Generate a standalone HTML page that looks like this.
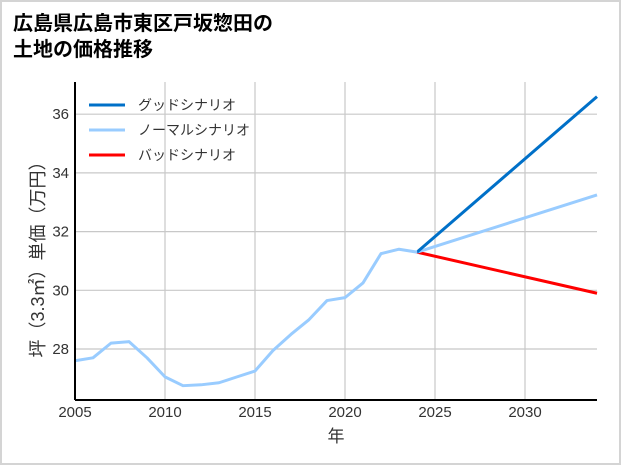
<!DOCTYPE html>
<html><head><meta charset="utf-8"><style>
body{margin:0;background:#fff}
#wrap{position:relative;width:621px;height:465px;box-sizing:border-box;border:2px solid #d4d4d4;background:#fff;font-family:"Liberation Sans","Noto Sans CJK JP",sans-serif}
#title{position:absolute;left:11px;top:9px;font-size:20px;font-weight:bold;line-height:26px;color:#000}
svg{position:absolute;left:-2px;top:-2px}
</style></head><body>
<div id="wrap">
<div id="title">広島県広島市東区戸坂惣田の<br>土地の価格推移</div>
<svg id="chart" width="621" height="465"></svg>
</div>
<script>
const years=[2005,2006,2007,2008,2009,2010,2011,2012,2013,2014,2015,2016,2017,2018,2019,2020,2021,2022,2023,2024];
const history=[27.6,27.7,28.2,28.25,27.7,27.05,26.75,26.78,26.85,27.05,27.25,27.95,28.5,29.0,29.65,29.75,30.25,31.25,31.4,31.3];
const forecastYears=[2024,2034];
const goodValues=[31.3,36.6];
const normalValues=[31.3,33.25];
const badValues=[31.3,29.9];
const xTicks=[2005,2010,2015,2020,2025,2030];
const yTicks=[28,30,32,34,36];
const NS='http://www.w3.org/2000/svg';
const svg=document.getElementById('chart');
const L=75,R=597,T=82,B=400;
const x=v=>L+(v-2005)/(2034-2005)*(R-L);
const y=v=>349-(v-28)*29.35;
function mk(t,a){const e=document.createElementNS(NS,t);for(const k in a)e.setAttribute(k,a[k]);svg.appendChild(e);return e;}
xTicks.forEach(t=>{
 const g=mk('line',{x1:x(t),x2:x(t),y1:T,y2:B,stroke:'#c8c8c8','stroke-width':1.2});
 
 const tx=mk('text',{x:x(t),y:B+17,'font-size':15,'text-anchor':'middle',fill:'#333'});tx.textContent=t;
 
});
yTicks.forEach(t=>{
 const g=mk('line',{x1:L,x2:R,y1:y(t),y2:y(t),stroke:'#c8c8c8','stroke-width':1.2});
 
 const tx=mk('text',{x:L-6,y:y(t)+5,'font-size':15,'text-anchor':'end',fill:'#333'});tx.textContent=t;
 
});
function line(xs,vs,c,n){const p=mk('polyline',{points:xs.map((v,i)=>x(v)+','+y(vs[i])).join(' '),fill:'none',stroke:c,'stroke-width':3,'stroke-linejoin':'round'});
 }
line(forecastYears,badValues,'#ff0000','bad-scenario-line');
line(forecastYears,normalValues,'#99ccff','normal-scenario-line');
line(forecastYears,goodValues,'#0070c8','good-scenario-line');
line(years,history,'#99ccff','historical-line');
const ax=mk('line',{x1:L,x2:L,y1:T,y2:B,stroke:'#000','stroke-width':2});

const bx=mk('line',{x1:L,x2:R,y1:B,y2:B,stroke:'#000','stroke-width':2});

const leg=[['グッドシナリオ','#0070c8'],['ノーマルシナリオ','#99ccff'],['バッドシナリオ','#ff0000']];
leg.forEach((l,i)=>{const yy=105+i*25;
 const s=mk('line',{x1:89,x2:125,y1:yy,y2:yy,stroke:l[1],'stroke-width':3});
 
 const t=mk('text',{x:138,y:yy+5,'font-size':14,fill:'#333'});t.textContent=l[0];
 
});
const xl=mk('text',{x:336,y:442,'font-size':17,'text-anchor':'middle',fill:'#333'});xl.textContent='年';

const yl=mk('text',{x:0,y:0,'font-size':18,'text-anchor':'middle',fill:'#333',transform:'translate(44,255) rotate(-90)'});yl.textContent='坪（3.3㎡）単価（万円）';

</script>
</body></html>
